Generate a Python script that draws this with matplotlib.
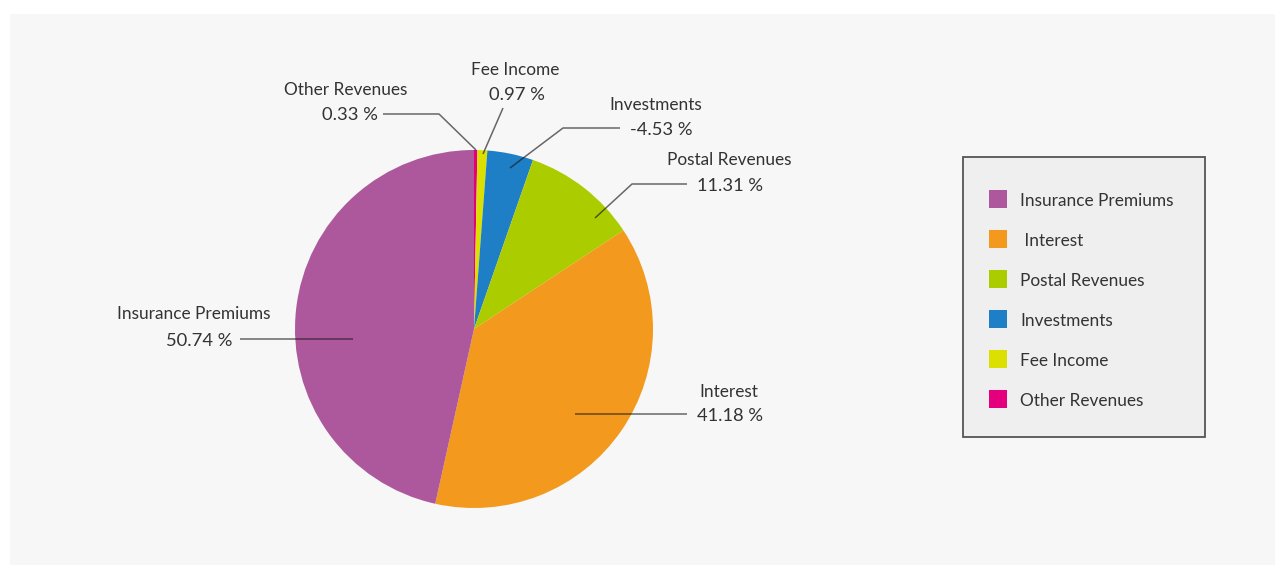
import numpy as np
import matplotlib
matplotlib.use("Agg")
import matplotlib.pyplot as plt
from matplotlib.patches import Rectangle

# revenue mix, drawn clockwise from 12 o'clock
categories = ["Other Revenues", "Fee Income", "Investments", "Postal Revenues",
              "Interest", "Insurance Premiums"]
shares = [0.33, 0.97, -4.53, 11.31, 41.18, 50.74]
colors = ["#E4007C", "#DCE000", "#1E7FC6", "#ABCD00", "#F39A1E", "#AD589C"]

# legend order
legend_order = ["Insurance Premiums", "Interest", "Postal Revenues",
                "Investments", "Fee Income", "Other Revenues"]
legend_text = {"Interest": " Interest"}

plt.rcParams['font.family'] = ['Lato', 'DejaVu Sans']

W, H = 1283, 569
fig = plt.figure(figsize=(W / 100, H / 100), dpi=100, facecolor="white")
ax = fig.add_axes([0, 0, 1, 1])

def fy(y):
    # pixel rows run downward
    return H - y

# background panel
ax.add_patch(Rectangle((10, fy(565)), 1265, 551, facecolor="#F6F7F6",
                       edgecolor="none", zorder=0))

cx, cy, r = 474, 329, 179
ax.pie(np.abs(shares), colors=colors, startangle=90, counterclock=False,
       center=(cx, fy(cy)), radius=r, frame=True,
       wedgeprops=dict(linewidth=0))
ax.set_xlim(0, W)
ax.set_ylim(0, H)
ax.set_aspect("equal")
ax.axis("off")

# leader lines: anchor in wedge, elbow, end
leaders = {
    "Other Revenues":     [(476, 150), (439, 114), (383, 114)],
    "Fee Income":         [(483, 154), (503, 108)],
    "Investments":        [(510, 168), (563, 128), (620, 128)],
    "Postal Revenues":    [(595, 218), (632, 184), (687, 184)],
    "Insurance Premiums": [(353, 339), (240, 339)],
    "Interest":           [(575, 414), (687, 414)],
}
# name centre, value centre
label_pos = {
    "Other Revenues":     (346, 90, 350, 115),
    "Fee Income":         (515, 70, 517, 95),
    "Investments":        (656, 105, 661, 130),
    "Postal Revenues":    (729, 160, 730, 186),
    "Insurance Premiums": (194, 314, 199, 341),
    "Interest":           (729, 392, 730, 416),
}

for name, val in zip(categories, shares):
    pts = leaders[name]
    ax.plot([p[0] for p in pts], [fy(p[1]) for p in pts], color="#1a1a1a",
            alpha=0.65, lw=1.1, solid_capstyle="butt", zorder=3)
    x1, y1, x2, y2 = label_pos[name]
    ax.text(x1, fy(y1), name, ha="center", va="center", fontsize=12.4,
            color="#333333", zorder=4)
    ax.text(x2, fy(y2), f"{val:.2f} %", ha="center", va="center",
            fontsize=13.2, color="#333333", zorder=4)

# legend box
ax.add_patch(Rectangle((963, fy(437)), 242, 280, facecolor="#EFEFEF",
                       edgecolor="#555555", lw=1.3, zorder=2))
color_of = dict(zip(categories, colors))
for i, name in enumerate(legend_order):
    y = 199 + 40 * i
    ax.add_patch(Rectangle((989, fy(y + 9)), 18, 18, facecolor=color_of[name],
                           edgecolor="none", zorder=3))
    ax.text(1020, fy(y + 2), legend_text.get(name, name), ha="left",
            va="center", fontsize=12.4, color="#333333", zorder=4)

fig.savefig("out.png", dpi=100, facecolor="white")
